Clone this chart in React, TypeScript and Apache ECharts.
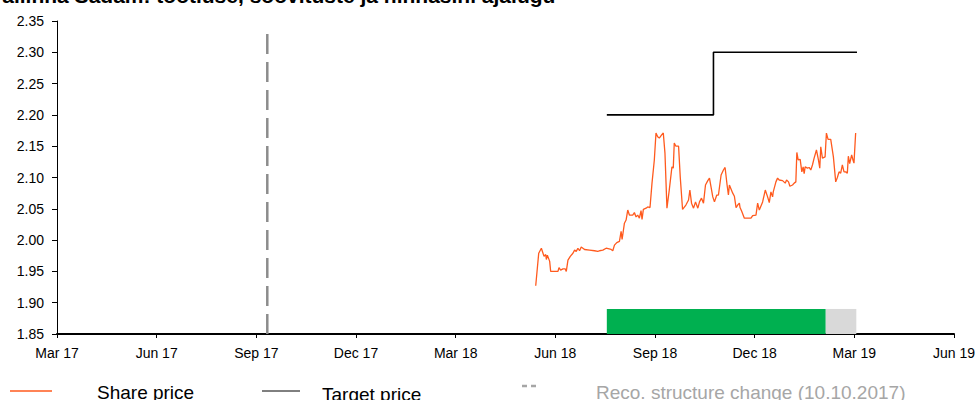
import React, { useEffect, useRef } from "react";
import * as echarts from "echarts";

// x values are months since 1 Mar 2017 (fractional)
const tickLabels = ["Mar 17", "Jun 17", "Sep 17", "Dec 17", "Mar 18", "Jun 18", "Sep 18", "Dec 18", "Mar 19", "Jun 19"];

const priceMonths = [
  14.41, 14.50, 14.58, 14.66, 14.71, 14.73, 14.76, 14.83, 14.86, 15.08, 15.11, 15.16, 15.23, 15.30, 15.33, 15.38,
  15.45, 15.53, 15.58, 15.63, 15.68, 15.73, 15.78, 15.88, 16.03, 16.18, 16.28, 16.33, 16.43, 16.53, 16.68, 16.73,
  16.78, 16.85, 16.93, 16.98, 17.01, 17.08, 17.13, 17.18, 17.23, 17.33, 17.38, 17.43, 17.48, 17.53, 17.58, 17.61,
  17.65, 17.73, 17.78, 17.85, 17.91, 17.98, 18.03, 18.08, 18.13, 18.20, 18.25, 18.30, 18.36, 18.43, 18.51, 18.55,
  18.58, 18.63, 18.71, 18.76, 18.83, 18.93, 19.01, 19.05, 19.10, 19.16, 19.22, 19.29, 19.34, 19.40, 19.46, 19.52,
  19.59, 19.64, 19.74, 19.79, 19.86, 19.91, 19.99, 20.06, 20.11, 20.17, 20.21, 20.24, 20.34, 20.39, 20.44, 20.49,
  20.54, 20.56, 20.61, 20.69, 20.79, 20.89, 20.94, 21.04, 21.09, 21.14, 21.24, 21.32, 21.39, 21.44, 21.49, 21.54,
  21.56, 21.64, 21.69, 21.74, 21.84, 21.92, 21.96, 22.02, 22.06, 22.14, 22.19, 22.24, 22.27, 22.31, 22.37, 22.42,
  22.46, 22.49, 22.52, 22.59, 22.64, 22.69, 22.74, 22.79, 22.86, 22.92, 22.96, 22.99, 23.04, 23.12, 23.16, 23.21,
  23.29, 23.37, 23.44, 23.49, 23.54, 23.59, 23.64, 23.69, 23.74, 23.79, 23.82, 23.86, 23.92, 23.96, 23.99, 24.04,
  24.06,
];
const priceValues = [
  1.927, 1.979, 1.987, 1.974, 1.977, 1.969, 1.976, 1.966, 1.950, 1.950, 1.956, 1.952, 1.954, 1.954, 1.950, 1.968,
  1.974, 1.979, 1.984, 1.982, 1.987, 1.983, 1.989, 1.985, 1.984, 1.983, 1.982, 1.983, 1.984, 1.987, 1.985, 1.983,
  1.992, 1.996, 1.998, 2.014, 2.001, 2.027, 2.032, 2.048, 2.040, 2.040, 2.044, 2.037, 2.040, 2.035, 2.047, 2.033,
  2.049, 2.051, 2.053, 2.052, 2.091, 2.128, 2.171, 2.165, 2.163, 2.168, 2.171, 2.139, 2.051, 2.080, 2.117, 2.115,
  2.155, 2.150, 2.150, 2.101, 2.049, 2.056, 2.064, 2.080, 2.059, 2.051, 2.061, 2.051, 2.061, 2.067, 2.059, 2.088,
  2.095, 2.099, 2.069, 2.061, 2.072, 2.072, 2.104, 2.112, 2.116, 2.088, 2.072, 2.088, 2.075, 2.070, 2.052, 2.056,
  2.059, 2.052, 2.046, 2.035, 2.035, 2.035, 2.039, 2.040, 2.059, 2.048, 2.061, 2.080, 2.069, 2.060, 2.077, 2.069,
  2.077, 2.093, 2.099, 2.096, 2.095, 2.091, 2.096, 2.093, 2.086, 2.088, 2.091, 2.093, 2.140, 2.128, 2.129, 2.109,
  2.117, 2.106, 2.117, 2.115, 2.116, 2.112, 2.120, 2.131, 2.144, 2.128, 2.115, 2.149, 2.131, 2.133, 2.171, 2.161,
  2.161, 2.133, 2.093, 2.100, 2.109, 2.107, 2.120, 2.109, 2.109, 2.107, 2.134, 2.122, 2.136, 2.128, 2.123, 2.171,
  2.171,
];

const targetMonths = [16.55, 19.76, 24.08];
const targetValues = [2.2, 2.3, 2.3];

const recoChangeMonth = 6.33;
const recoChangeRange = [1.85, 2.34];

const recoStarts = [16.55, 23.14];
const recoEnds = [23.14, 24.06];
const recoLevels = ["buy", "none"];
const recoBandRange = [1.85, 1.89];

const legendLabels = ["Share price", "Target price", "Reco. structure change (10.10.2017)"];
const titleText = "Tallinna Sadam: tootluse, soovituste ja hinnasihi ajalugu";

const recoColors: Record<string, string> = { buy: "#00b050", none: "#d9d9d9" };

export default function App() {
  const ref = useRef<HTMLDivElement>(null);
  useEffect(() => {
    if (!ref.current) return;
    const chart = echarts.init(ref.current, undefined, { renderer: "svg" });
    const font = "'Liberation Sans', Arial, sans-serif";
    const option: any = {
      animation: false,
      grid: { left: 57, right: 23, top: 21, bottom: 66, containLabel: false },
      xAxis: {
        type: "value",
        min: 0,
        max: 27,
        interval: 3,
        axisLine: { show: true, onZero: false, lineStyle: { color: "#000", width: 2 } },
        axisTick: { show: true, length: 4, lineStyle: { color: "#000" } },
        splitLine: { show: false },
        axisLabel: {
          color: "#000",
          fontFamily: font,
          fontSize: 14,
          margin: 12,
          showMaxLabel: true,
          formatter: (v: number) => tickLabels[Math.round(v / 3)] ?? "",
        },
      },
      yAxis: {
        type: "value",
        min: 1.85,
        max: 2.35,
        interval: 0.05,
        axisLine: { show: true, lineStyle: { color: "#000", width: 1 } },
        axisTick: { show: true, length: 5, lineStyle: { color: "#000" } },
        splitLine: { show: false },
        axisLabel: {
          color: "#000",
          fontFamily: font,
          fontSize: 14,
          margin: 13,
          formatter: (v: number) => v.toFixed(2),
        },
      },
      series: [
        {
          type: "line",
          name: "Reco. structure change",
          data: recoChangeRange.map((y) => [recoChangeMonth, y]),
          symbol: "none",
          lineStyle: { color: "#8c8c8c", width: 2.5, type: [20, 8] },
          z: 3,
        },
        {
          type: "custom",
          name: "Recommendation",
          data: recoStarts.map((s, i) => [s, recoEnds[i], i]),
          renderItem: (params: any, api: any) => {
            const i = api.value(2);
            const p0 = api.coord([api.value(0), recoBandRange[1]]);
            const p1 = api.coord([api.value(1), recoBandRange[0]]);
            return {
              type: "rect",
              shape: { x: p0[0], y: p0[1], width: p1[0] - p0[0], height: p1[1] - p0[1] },
              style: { fill: recoColors[recoLevels[i]] },
            };
          },
          z: 1,
        },
        {
          type: "line",
          name: "Target price",
          step: "end",
          data: targetMonths.map((m, i) => [m, targetValues[i]]),
          symbol: "none",
          lineStyle: { color: "#000", width: 1.6 },
          z: 4,
        },
        {
          type: "line",
          name: "Share price",
          data: priceMonths.map((m, i) => [m, priceValues[i]]),
          symbol: "none",
          lineStyle: { color: "#ff5a1e", width: 1.3 },
          z: 5,
        },
      ],
      graphic: [
        {
          type: "text",
          x: -9,
          y: -5,
          style: { text: titleText, font: `bold 21px ${font}`, fill: "#000", verticalAlign: "middle" },
        },
        { type: "line", shape: { x1: 10, y1: 391, x2: 52, y2: 391 }, style: { stroke: "#ff5a1e", lineWidth: 1.3 } },
        {
          type: "text",
          x: 97,
          y: 392,
          style: { text: legendLabels[0], font: `19px ${font}`, fill: "#000", verticalAlign: "middle" },
        },
        { type: "line", shape: { x1: 262, y1: 391, x2: 300, y2: 391 }, style: { stroke: "#000", lineWidth: 1 } },
        {
          type: "text",
          x: 322,
          y: 394,
          style: { text: legendLabels[1], font: `19px ${font}`, fill: "#000", verticalAlign: "middle" },
        },
        {
          type: "line",
          shape: { x1: 522, y1: 386, x2: 540, y2: 386 },
          style: { stroke: "#a6a6a6", lineWidth: 2.5, lineDash: [5, 4] },
        },
        {
          type: "text",
          x: 596,
          y: 392,
          style: { text: legendLabels[2], font: `19px ${font}`, fill: "#a6a6a6", verticalAlign: "middle" },
        },
      ],
    };
    chart.setOption(option);
    return () => chart.dispose();
  }, []);
  return <div ref={ref} style={{ width: 978, height: 400, position: "absolute", left: 0, top: 0 }} />;
}
